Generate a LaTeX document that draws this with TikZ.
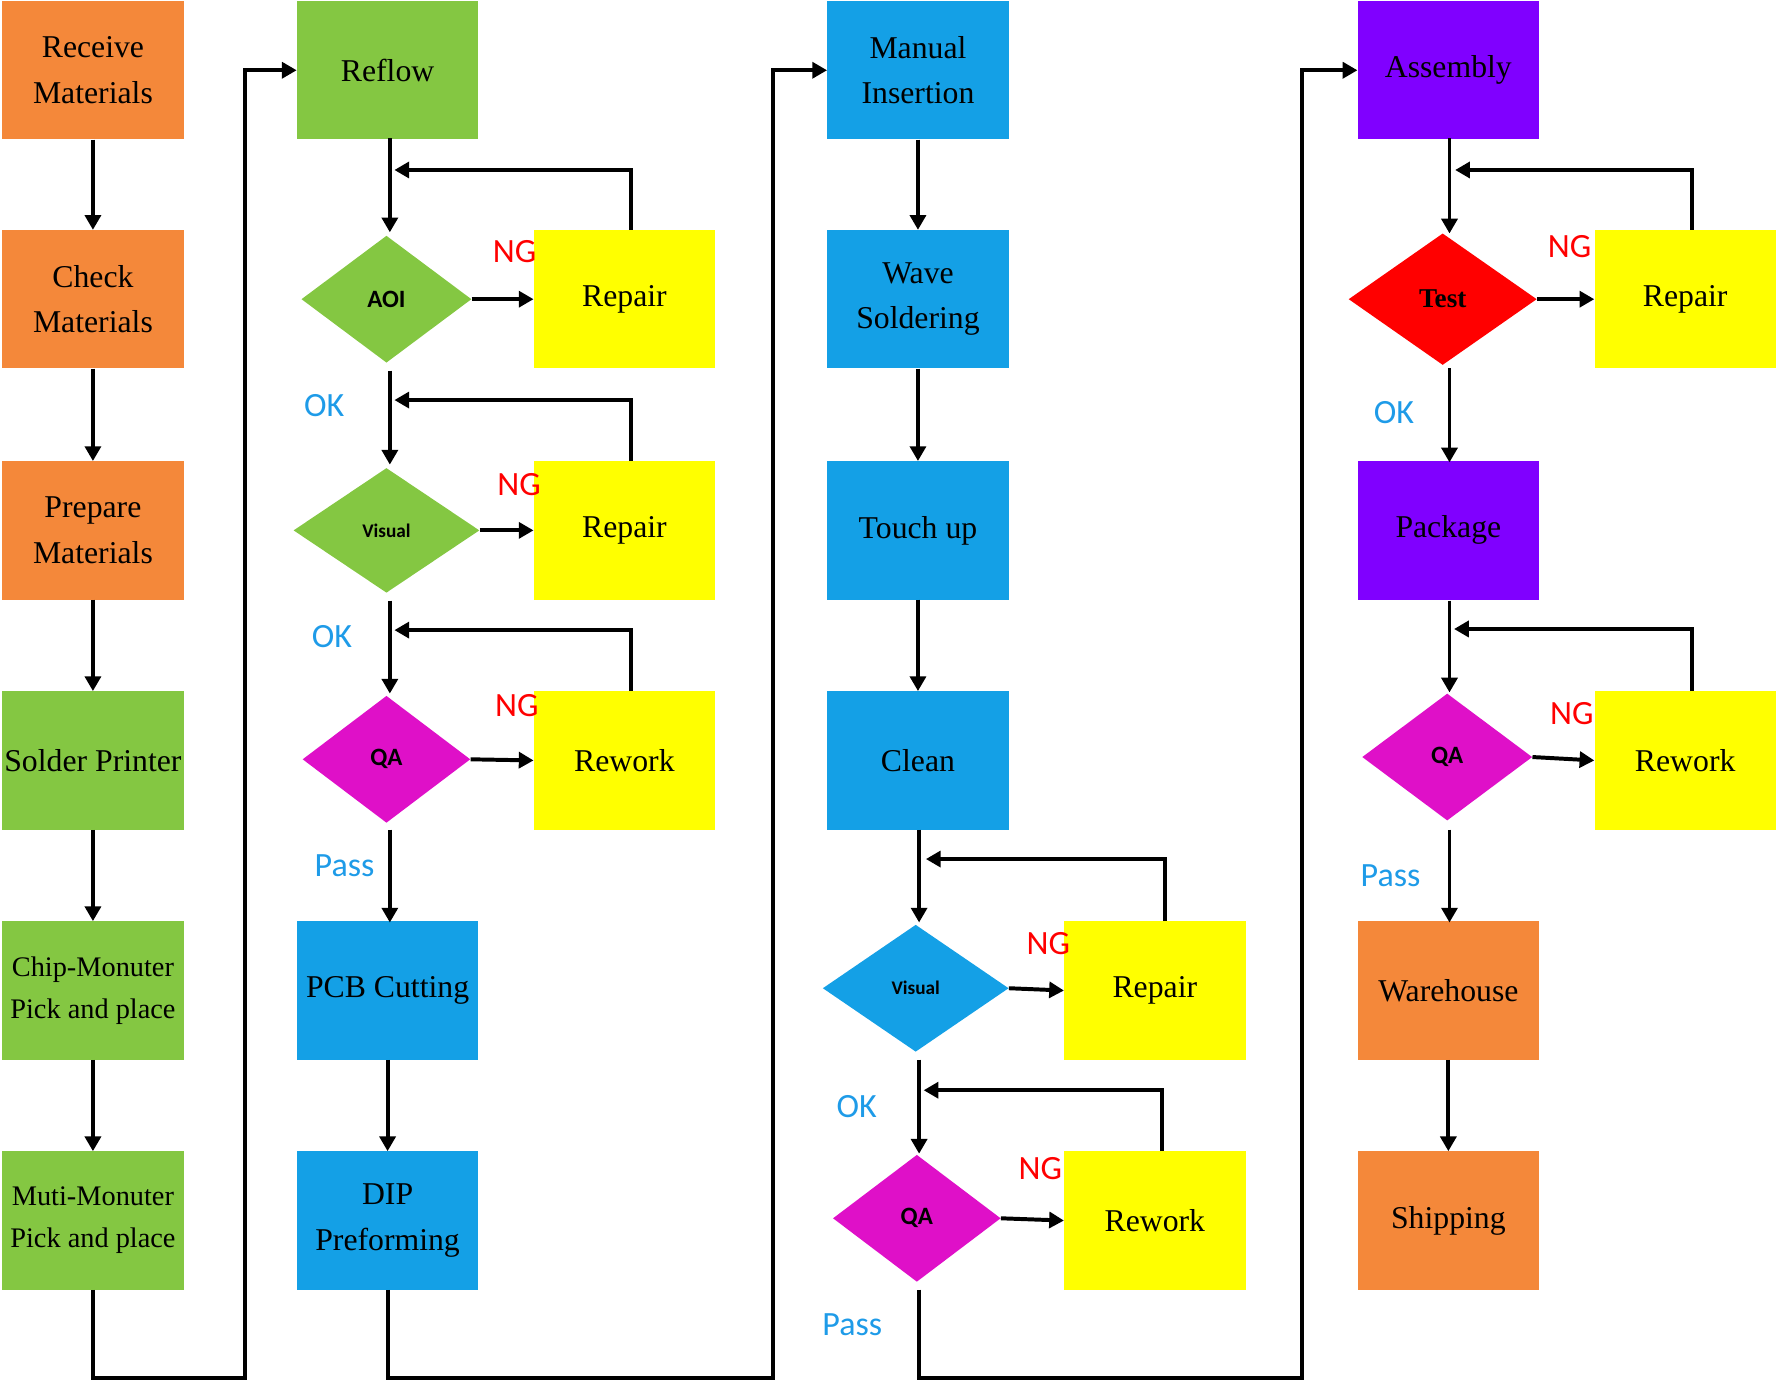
\documentclass[tikz,border=0pt]{standalone}
\usepackage{fontspec}
\setmainfont{Liberation Serif}
\newfontfamily\lab{Carlito}
\usetikzlibrary{shapes.geometric,arrows.meta}
\definecolor{cor}{HTML}{F4883A}\definecolor{cgr}{HTML}{84C742}\definecolor{cbl}{HTML}{14A0E6}
\definecolor{cye}{HTML}{FFFF00}\definecolor{cmg}{HTML}{DF10C8}\definecolor{cpu}{HTML}{8000FF}
\definecolor{cok}{HTML}{1E9BE8}
\tikzset{
 box/.style={draw=none,fill=#1,minimum width=160pt,minimum height=122pt,inner sep=0,align=center,font=\fontsize{28}{40}\selectfont},
 dia/.style args={#1/#2/#3}{diamond,draw=none,fill=#1,minimum width=#2pt,minimum height=#3pt,inner sep=0,font=\lab\bfseries\fontsize{22}{24}\selectfont},
 arr/.style={line width=3.5pt,-{Triangle[length=13pt,width=14pt]}},
 ln/.style={line width=3.5pt},
 ng/.style={text=red,font=\lab\fontsize{30}{30}\selectfont},
 ok/.style={text=cok,font=\lab\fontsize{30}{30}\selectfont}}
\begin{document}
\begin{tikzpicture}[x=1pt,y=-1pt]
\useasboundingbox (0,0) rectangle (1568,1222);
% column 1
\node[box=cor] (a1) at (82,62) {Receive\\Materials};
\node[box=cor] (a2) at (82,264) {Check\\Materials};
\node[box=cor] (a3) at (82,468) {Prepare\\Materials};
\node[box=cgr] (a4) at (82,671) {Solder Printer};
\node[box=cgr,font=\fontsize{25}{37}\selectfont] (a5) at (82,874) {Chip-Monuter\\Pick and place};
\node[box=cgr,font=\fontsize{25}{37}\selectfont] (a6) at (82,1077) {Muti-Monuter\\Pick and place};
\foreach \i/\j in {a1/a2,a2/a3,a3/a4,a4/a5,a5/a6}\draw[arr] (\i) -- (\j);
% column 2
\node[box=cgr] (b1) at (342,62) {Reflow};
\node[dia=cgr/150/112] (d1) at (341,264) {AOI};
\node[dia=cgr/164/110,font=\lab\bfseries\fontsize{17}{20}\selectfont] (d2) at (341,468) {Visual};
\node[dia=cmg/148/112] (d3) at (341,670) {QA};
\node[box=cbl] (b5) at (342,874) {PCB Cutting};
\node[box=cbl] (b6) at (342,1077) {DIP\\Preforming};
\node[box=cye] (r1) at (551,264) {Repair};
\node[box=cye] (r2) at (551,468) {Repair};
\node[box=cye] (r3) at (551,671) {Rework};
\draw[arr] (344,122) -- (344,205);
\draw[arr] (344,327) -- (344,410);
\draw[arr] (344,530) -- (344,612);
\draw[arr] (344,732) -- (344,814);
\draw[arr] (b5) -- (b6);
\foreach \d/\r in {d1/r1,d2/r2,d3/r3}\draw[arr] (\d.east) -- (\r.west);
\draw[arr] ([xshift=6pt]r1.north) |- (348,150);
\draw[arr] ([xshift=6pt]r2.north) |- (348,353);
\draw[arr] ([xshift=6pt]r3.north) |- (348,556);
\node[ng] at (454,222) {NG};\node[ng] at (458,428) {NG};\node[ng] at (456,623) {NG};
\node[ok] at (286,358) {OK};\node[ok] at (293,562) {OK};\node[ok] at (304,764) {Pass};
% column 3
\node[box=cbl] (c1) at (810,62) {Manual\\Insertion};
\node[box=cbl] (c2) at (810,264) {Wave\\Soldering};
\node[box=cbl] (c3) at (810,468) {Touch up};
\node[box=cbl] (c4) at (810,671) {Clean};
\node[dia=cbl/164/112,font=\lab\bfseries\fontsize{17}{20}\selectfont] (e1) at (808,872) {Visual};
\node[dia=cmg/148/112] (e2) at (809,1075) {QA};
\node[box=cye] (s1) at (1019,874) {Repair};
\node[box=cye] (s2) at (1019,1077) {Rework};
\draw[arr] (c1) -- (c2);\draw[arr] (c2) -- (c3);\draw[arr] (c3) -- (c4);
\draw[arr] (811,732) -- (811,814);
\draw[arr] (811,935) -- (811,1018);
\draw[arr] (e1.east) -- (s1.west);\draw[arr] (e2.east) -- (s2.west);
\draw[arr] ([xshift=9pt]s1.north) |- (817,758);
\draw[arr] ([xshift=6pt]s2.north) |- (815,962);
\node[ng] at (925,833) {NG};\node[ng] at (918,1031) {NG};
\node[ok] at (756,976) {OK};\node[ok] at (752,1169) {Pass};
% column 4
\node[box=cpu] (f1) at (1278,62) {Assembly};
\node[dia=red/166/116,font=\bfseries\fontsize{24}{26}\selectfont] (g1) at (1273,264) {Test};
\node[box=cpu] (f3) at (1278,468) {Package};
\node[dia=cmg/150/112] (g2) at (1277,668) {QA};
\node[box=cor] (f5) at (1278,874) {Warehouse};
\node[box=cor] (f6) at (1278,1077) {Shipping};
\node[box=cye] (t1) at (1487,264) {Repair};
\node[box=cye] (t2) at (1487,671) {Rework};
\draw[arr] (1279,122) -- (1279,206);
\draw[arr] (1279,325) -- (1279,408);
\draw[arr] (1279,530) -- (1279,611);
\draw[arr] (1279,732) -- (1279,814);
\draw[arr] (f5) -- (f6);
\draw[arr] (g1.east) -- (t1.west);\draw[arr] (g2.east) -- (t2.west);
\draw[arr] ([xshift=6pt]t1.north) |- (1284,150);
\draw[arr] ([xshift=6pt]t2.north) |- (1283,555);
\node[ng] at (1385,218) {NG};\node[ng] at (1387,630) {NG};
\node[ok] at (1230,364) {OK};\node[ok] at (1227,773) {Pass};
% links between columns
\draw[arr] (a6.south) |- (216,1216) |- (b1.west);
\draw[arr] (b6.south) |- (682,1216) |- (c1.west);
\draw[arr] (811,1138) |- (1149,1216) |- (f1.west);
\end{tikzpicture}
\end{document}
